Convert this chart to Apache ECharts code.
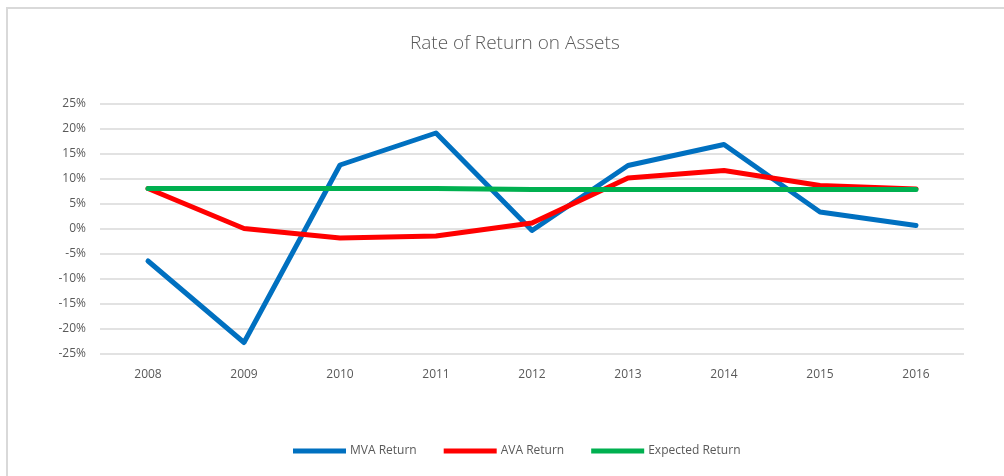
<!DOCTYPE html>
<html>
<head>
<meta charset="utf-8">
<script src="https://cdn.jsdelivr.net/npm/echarts@6/dist/echarts.min.js"></script>
<style>
  html, body { margin: 0; padding: 0; background: #fff; }
  #chart { width: 1004px; height: 476px; }
</style>
</head>
<body>
<div id="chart"></div>
<script>
const years = ["2008", "2009", "2010", "2011", "2012", "2013", "2014", "2015", "2016"];
const mvaReturn = [-6.5, -22.8, 12.7, 19.1, -0.4, 12.6, 16.8, 3.3, 0.6];
const avaReturn = [8.0, 0.0, -1.9, -1.5, 1.1, 10.1, 11.6, 8.6, 7.9];
const expectedReturn = [8.0, 8.0, 8.0, 8.0, 7.8, 7.8, 7.8, 7.8, 7.8];

const chart = echarts.init(document.getElementById("chart"));

const lineSeries = (name, data, color) => ({
    name,
    type: "line",
    data,
    symbol: "none",
    lineStyle: { width: 5, color, cap: "round", join: "round" },
    itemStyle: { color },
    animation: false
});

chart.setOption({
    graphic: [{
        type: "rect",
        shape: { x: 7, y: 8, width: 1010, height: 480 },
        style: { fill: "none", stroke: "#d9d9d9", lineWidth: 2 },
        silent: true
    }],
    title: {
        text: "Rate of Return on Assets",
        left: 405,
        top: 29,
        textStyle: { fontFamily: "Open Sans", fontWeight: 300, fontSize: 19, color: "#595959" }
    },
    legend: {
        bottom: 14,
        left: 288,
        itemWidth: 53,
        itemHeight: 5,
        itemGap: 27,
        icon: "rect",
        textStyle: { fontFamily: "Open Sans", fontSize: 12, color: "#595959", padding: [0, 0, 0, -1] },
        data: ["MVA Return", "AVA Return", "Expected Return"]
    },
    grid: { left: 100, right: 40, top: 103.5, height: 250 },
    xAxis: {
        type: "category",
        data: years,
        boundaryGap: true,
        axisLine: { show: false },
        axisTick: { show: false },
        axisLabel: { fontFamily: "Open Sans", fontSize: 12, color: "#595959", margin: 15 }
    },
    yAxis: {
        type: "value",
        min: -25,
        max: 25,
        interval: 5,
        axisLine: { show: false },
        axisTick: { show: false },
        axisLabel: { fontFamily: "Open Sans", fontSize: 12, color: "#595959", margin: 14, formatter: "{value}%" },
        splitLine: { lineStyle: { color: "#d9d9d9", width: 1.5 } }
    },
    series: [
        lineSeries("MVA Return", mvaReturn, "#0070C0"),
        lineSeries("AVA Return", avaReturn, "#FF0000"),
        lineSeries("Expected Return", expectedReturn, "#00B050")
    ]
});
</script>
</body>
</html>
